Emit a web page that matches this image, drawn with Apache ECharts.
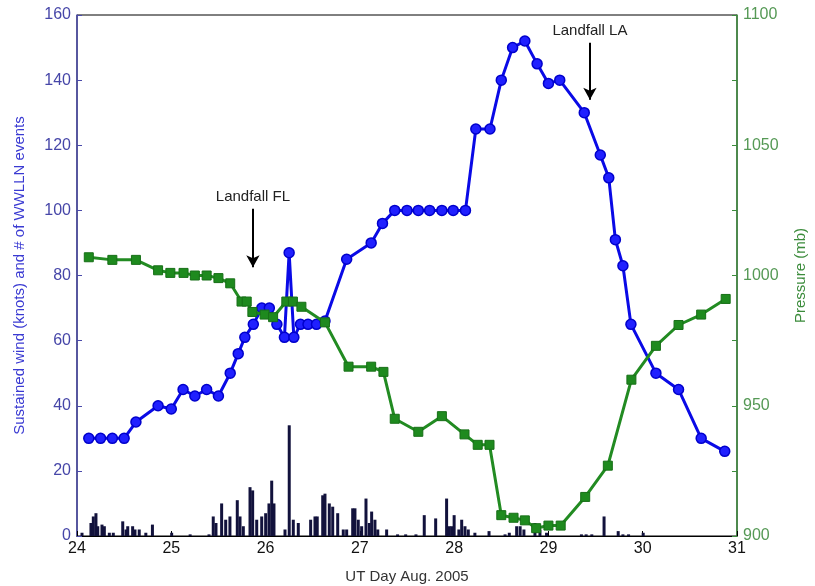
<!DOCTYPE html>
<html>
<head>
<meta charset="utf-8">
<script src="https://cdn.jsdelivr.net/npm/echarts@6/dist/echarts.min.js"></script>
<style>
html,body{margin:0;padding:0;background:#fff;}
#mainarea{width:815px;height:586px;}
</style>
</head>
<body>
<div id="mainarea"></div>
<script>
var myChart = echarts.init(document.getElementById('mainarea'));

// sustained wind (knots), time in UT day of Aug 2005
var windDays=[24.125,24.25,24.375,24.5,24.625,24.86,25.0,25.125,25.25,25.375,25.5,25.625,25.71,25.78,25.87,25.96,26.04,26.12,26.2,26.25,26.3,26.37,26.45,26.54,26.63,26.86,27.12,27.24,27.37,27.5,27.62,27.74,27.87,27.99,28.12,28.23,28.38,28.5,28.62,28.75,28.88,29.0,29.12,29.38,29.55,29.64,29.71,29.79,29.875,30.14,30.38,30.62,30.87];
var windKnots=[30,30,30,30,35,40,39,45,43,45,43,50,56,61,65,70,70,65,61,87,61,65,65,65,66,85,90,96,100,100,100,100,100,100,100,125,125,140,150,152,145,139,140,130,117,110,91,83,65,50,45,30,26];

// central pressure (mb)
var presDays=[24.125,24.375,24.625,24.86,24.99,25.13,25.25,25.375,25.5,25.625,25.745,25.8,25.86,25.99,26.08,26.22,26.29,26.38,26.63,26.88,27.12,27.25,27.37,27.62,27.87,28.11,28.25,28.375,28.5,28.63,28.75,28.87,29.0,29.13,29.39,29.63,29.88,30.14,30.38,30.62,30.88];
var presMb=[1007,1006,1006,1002,1001,1001,1000,1000,999,997,990,990,986,985,984,990,990,988,982,965,965,963,945,940,946,939,935,935,908,907,906,903,904,904,915,927,960,973,981,985,991];

// WWLLN lightning events
var wwDays=[24.053,24.148,24.173,24.201,24.22,24.265,24.29,24.343,24.385,24.485,24.52,24.538,24.59,24.615,24.66,24.73,24.8,25.004,25.2,25.4,25.445,25.474,25.534,25.577,25.622,25.7,25.729,25.764,25.835,25.863,25.906,25.959,26.001,26.036,26.065,26.089,26.206,26.251,26.294,26.347,26.478,26.524,26.548,26.606,26.63,26.676,26.712,26.765,26.824,26.86,26.924,26.948,26.983,27.019,27.065,27.1,27.125,27.16,27.19,27.284,27.4,27.486,27.595,27.683,27.804,27.92,27.948,27.974,28.0,28.05,28.08,28.115,28.15,28.22,28.37,28.54,28.585,28.663,28.7,28.74,28.857,28.91,28.98,29.35,29.4,29.46,29.59,29.74,29.79,29.85,30.005];
var wwCount=[1,4,6,7,3,3.5,3,1,1,4.5,2,3,3,2,2,1,3.5,1,0.5,0.5,6,4,10,5,6,11,6,3,15,14,5,6,7,10,17,10,2,34,5,4,5,6,6,12.5,13,10,9,7,2,2,8.5,8.5,5,3,11.5,4,7.5,5,2,2,0.5,0.5,0.5,6.4,5.4,11.5,3,3,6.4,2,5,3,2,1,1.5,0.5,1,3,3,2,4,2,1,0.5,0.5,0.5,6,1.5,0.5,0.5,1];

// landfall arrows: [day, top, bottom]
var landfallFL=[25.866,100.5,82.5];
var landfallLA=[29.44,151.5,134];

function pairs(a,b){
  var out=[];
  for(var i=0;i<a.length;i++){ out.push([a[i],b[i]]); }
  return out;
}

function arrow(name,spec){
  return [{coord:[spec[0],spec[1]],label:{formatter:name}},{coord:[spec[0],spec[2]]}];
}

var font='"Liberation Sans", Arial, sans-serif';

var option={
  animation:false,
  backgroundColor:'#fff',
  grid:{left:77,right:78,top:15,bottom:50,outerBoundsMode:'none',containLabel:false,
    show:true,borderColor:'#000',borderWidth:1},
  xAxis:{
    type:'value',min:24,max:31,interval:1,
    name:'UT Day Aug. 2005',nameLocation:'middle',nameGap:33,
    nameTextStyle:{color:'#333',fontSize:15,fontFamily:font},
    axisLine:{show:true,lineStyle:{color:'#000'}},
    axisTick:{inside:true,length:5,lineStyle:{color:'#000'}},
    axisLabel:{color:'#111',fontSize:16,fontFamily:font,margin:5},
    splitLine:{show:false}
  },
  yAxis:[{
    type:'value',min:0,max:160,interval:20,position:'left',
    name:'Sustained wind (knots) and # of WWLLN events',nameLocation:'middle',nameGap:50,nameRotate:90,
    nameTextStyle:{color:'#3a3ad2',fontSize:15,fontFamily:font},
    axisLine:{show:true,lineStyle:{color:'#4a4aaa',width:1.5}},
    axisTick:{inside:true,length:5,lineStyle:{color:'#4a4aaa'}},
    axisLabel:{color:'#4646a8',fontSize:16,fontFamily:font,margin:6},
    splitLine:{show:false}
  },{
    type:'value',min:900,max:1100,interval:25,position:'right',
    name:'Pressure (mb)',nameLocation:'middle',nameGap:56,nameRotate:90,
    nameTextStyle:{color:'#3c8c3c',fontSize:15,fontFamily:font},
    axisLine:{show:true,lineStyle:{color:'#3c8c3c',width:1.5}},
    axisTick:{inside:true,length:5,lineStyle:{color:'#3c8c3c'}},
    axisLabel:{color:'#559955',fontSize:16,fontFamily:font,margin:6,
      formatter:function(v){ return v%50===0 ? v : ''; }},
    splitLine:{show:false}
  }],
  series:[{
    name:'WWLLN',type:'bar',yAxisIndex:0,barWidth:3,
    itemStyle:{color:'#12123c'},
    data:pairs(wwDays,wwCount),z:2
  },{
    name:'wind',type:'line',yAxisIndex:0,
    symbol:'circle',symbolSize:10,
    lineStyle:{color:'#0a0ae6',width:3},
    itemStyle:{color:'#2020ff',borderColor:'#0000cc',borderWidth:1.5},
    data:pairs(windDays,windKnots),z:3,
    markLine:{
      silent:true,symbol:['none','arrow'],symbolSize:[10,12],
      lineStyle:{color:'#000',width:2,type:'solid'},
      label:{show:true,position:'start',distance:4,color:'#222',fontSize:15,fontFamily:font},
      data:[arrow('Landfall FL',landfallFL),arrow('Landfall LA',landfallLA)]
    }
  },{
    name:'pressure',type:'line',yAxisIndex:1,
    symbol:'rect',symbolSize:9,
    lineStyle:{color:'#228b22',width:3},
    itemStyle:{color:'#1e8a1e',borderColor:'#176f17',borderWidth:1},
    data:pairs(presDays,presMb),z:4
  }]
};

myChart.setOption(option);
</script>
</body>
</html>
